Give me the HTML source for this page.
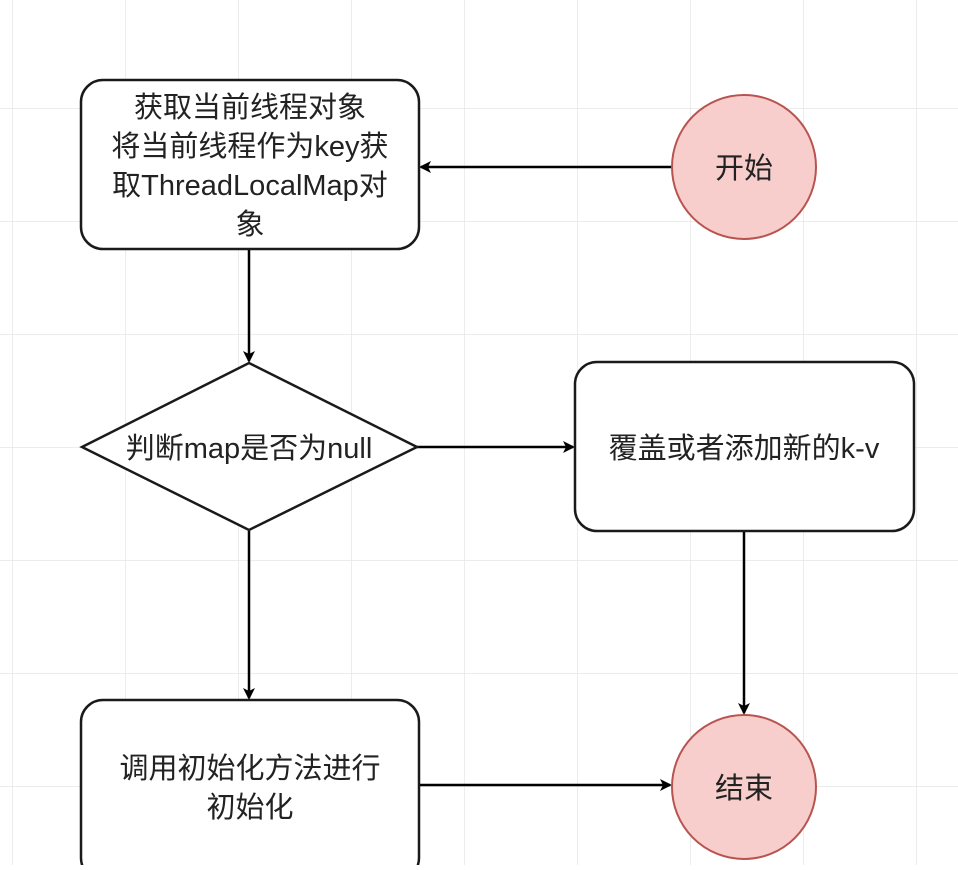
<!DOCTYPE html>
<html><head><meta charset="utf-8"><style>
html,body{margin:0;padding:0;background:#fff}
svg text{font-family:"Liberation Sans","Noto Sans CJK SC",sans-serif;font-size:29px;fill:#222}
</style></head><body>
<svg width="958" height="865" xmlns="http://www.w3.org/2000/svg">
<defs>
<pattern id="g" x="12" y="-5" width="113" height="113" patternUnits="userSpaceOnUse">
<path d="M0 0H113M0 0V113" stroke="#e6e6e6" stroke-width="1.5" fill="none"/>
</pattern>
<marker id="a" markerWidth="12" markerHeight="12" refX="10" refY="6" orient="auto" markerUnits="userSpaceOnUse" viewBox="0 0 12 12">
<path d="M0 0L12 6L0 12L3 6Z" fill="#000"/>
</marker>
</defs>
<rect width="958" height="865" fill="url(#g)"/>
<g stroke="#000" stroke-width="2.5" fill="none">
<line x1="672" y1="167" x2="421" y2="167" marker-end="url(#a)"/>
<line x1="249" y1="250" x2="249" y2="361" marker-end="url(#a)"/>
<line x1="417" y1="447" x2="573" y2="447" marker-end="url(#a)"/>
<line x1="249" y1="531" x2="249" y2="698" marker-end="url(#a)"/>
<line x1="744" y1="532" x2="744" y2="713" marker-end="url(#a)"/>
<line x1="420" y1="785" x2="670" y2="785" marker-end="url(#a)"/>
</g>
<g stroke="#1a1a1a" stroke-width="2.5" fill="#fff">
<rect x="81" y="80" width="338" height="169" rx="22"/>
<polygon points="249,363 417,447 249,530 82,447"/>
<rect x="575" y="362" width="339" height="169" rx="22"/>
<rect x="81" y="700" width="338" height="180" rx="22"/>
</g>
<g stroke="#b85450" stroke-width="2" fill="#f8cecc">
<circle cx="744" cy="167" r="72"/>
<circle cx="744" cy="787" r="72"/>
</g>
<g text-anchor="middle">
<text x="250" y="117">获取当前线程对象</text>
<text x="250" y="156">将当前线程作为key获</text>
<text x="250" y="195">取ThreadLocalMap对</text>
<text x="250" y="234">象</text>
<text x="744" y="178">开始</text>
<text x="249" y="458">判断map是否为null</text>
<text x="744" y="458">覆盖或者添加新的k-v</text>
<text x="250" y="778">调用初始化方法进行</text>
<text x="250" y="817">初始化</text>
<text x="744" y="798">结束</text>
</g>
</svg>
</body></html>
